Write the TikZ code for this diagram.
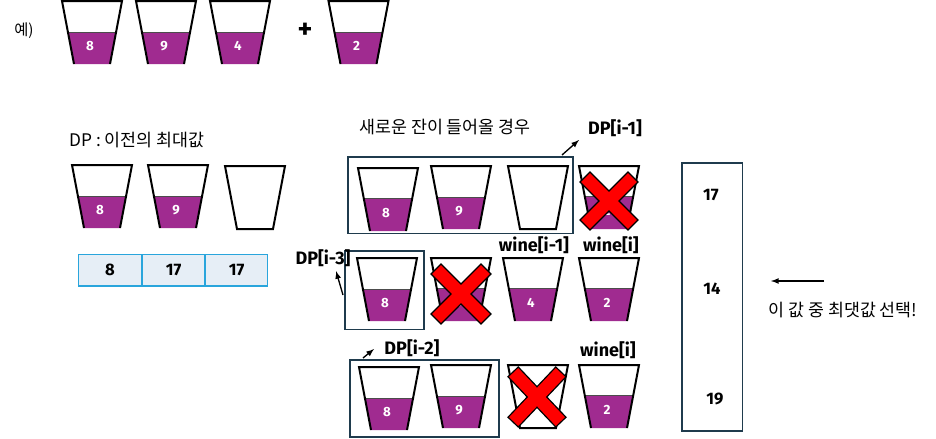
\documentclass[tikz,border=0pt]{standalone}
\usepackage{fontspec}
\setmainfont{Fira Sans}
\newfontfamily\krfont{Noto Sans CJK KR}
\definecolor{winepurple}{HTML}{A02B90}
\definecolor{framedark}{HTML}{1F3B4D}
\definecolor{cellfill}{HTML}{E6EEF6}
\definecolor{cellline}{HTML}{29A5DC}
\tikzset{
    cupline/.style={black, line width=1.5pt, line join=miter},
    framebox/.style={draw=framedark, line width=1.3pt, inner sep=0pt, anchor=north west},
    cell/.style={draw=cellline, fill=cellfill, line width=0.9pt, inner sep=0pt, anchor=north west,
        minimum height=23.5pt, font=\bfseries\fontsize{12.5}{14}\selectfont},
    cuplabel/.style={text=white, font=\bfseries\fontsize{10}{11}\selectfont},
    codelabel/.style={font=\bfseries\fontsize{13.5}{15}\selectfont},
    krlabel/.style={font=\krfont\fontsize{13}{15}\selectfont},
    numlabel/.style={font=\bfseries\fontsize{12.5}{14}\selectfont},
    arrowline/.style={-latex, black, line width=1pt},
}
% name, left, top, liquid depth, value
\newcommand{\wineglass}[5]{
    \pgfmathsetmacro{\inset}{12*#4/63}
    \fill[winepurple] ({#2+\inset},{#3+#4}) -- ({#2+60-\inset},{#3+#4}) -- ({#2+48},{#3+63}) -- ({#2+12},{#3+63}) -- cycle;
    \draw[black!70, line width=0.7pt] ({#2+\inset},{#3+#4}) -- ({#2+60-\inset},{#3+#4});
    \draw[cupline] ({#2+12},{#3+63}) -- (#2,#3) -- ({#2+60},#3) -- ({#2+48},{#3+63});
    \node[cuplabel] (#1) at ({#2+28},{#3+45}) {#5};
}
% left, top
\newcommand{\emptyglass}[2]{
    \draw[cupline] ({#1+12},{#2+63}) -- (#1,#2) -- ({#1+60},#2) -- ({#1+48},{#2+63}) -- cycle;
}
% centre, half width, half height
\newcommand{\crossmark}[4]{
    \draw[black, line width=11.5pt, line cap=rect] ({#1-#3},{#2-#4}) -- ({#1+#3},{#2+#4});
    \draw[black, line width=11.5pt, line cap=rect] ({#1-#3},{#2+#4}) -- ({#1+#3},{#2-#4});
    \draw[red, line width=9.5pt, line cap=rect] ({#1-#3},{#2-#4}) -- ({#1+#3},{#2+#4});
    \draw[red, line width=9.5pt, line cap=rect] ({#1-#3},{#2+#4}) -- ({#1+#3},{#2-#4});
}
\begin{document}
\begin{tikzpicture}[x=0.75pt, y=-0.75pt]
    \useasboundingbox (0,0) rectangle (936,439);

    % Example row
    \node[krlabel, font=\krfont\fontsize{11.5}{13}\selectfont] (example) at (24,31) {예)};
    \wineglass{topa}{62}{1}{31}{8}
    \wineglass{topb}{136}{1}{31}{9}
    \wineglass{topc}{210}{1}{31}{4}
    \wineglass{topd}{328.5}{1}{31}{2}
    \node[font=\bfseries\fontsize{21}{22}\selectfont] (plus) at (305,31) {+};

    % Previous maximum
    \node[krlabel] (dptitle) at (137,140) {DP : 이전의 최대값};
    \wineglass{preva}{72}{165}{31}{8}
    \wineglass{prevb}{148}{165}{31}{9}
    \emptyglass{225}{166}
    \node[cell, minimum width=47pt] (cella) at (78,254) {8};
    \node[cell, minimum width=46.5pt] (cellb) at (142,254) {17};
    \node[cell, minimum width=46.5pt] (cellc) at (205,254) {17};

    % Case one
    \node[krlabel] (newtitle) at (445,127) {새로운 잔이 들어올 경우};
    \node[framebox, minimum width=169pt, minimum height=57.5pt] (boxone) at (347,156) {};
    \wineglass{onea}{358}{168}{30}{8}
    \wineglass{oneb}{431}{166}{31}{9}
    \emptyglass{508}{166}
    \wineglass{onec}{579}{166}{30}{2}
    \crossmark{609}{201}{19}{19}
    \node[codelabel] (dpone) at (615,128) {DP[i-1]};
    \coordinate (onestart) at (562,155);
    \coordinate (oneend) at (579,140);
    \draw[arrowline] (onestart) -- (oneend);

    % Case two
    \node[framebox, minimum width=59.5pt, minimum height=59pt] (boxtwo) at (344,250) {};
    \wineglass{twoa}{357}{258}{31}{8}
    \wineglass{twob}{431}{258}{30}{9}
    \wineglass{twoc}{503}{258}{30}{4}
    \wineglass{twod}{579}{258}{30}{2}
    \crossmark{461}{294}{20}{20}
    \node[codelabel] (dpthree) at (323,258) {DP[i-3]};
    \node[codelabel] (winetwoa) at (534,245) {wine[i-1]};
    \node[codelabel] (winetwob) at (611,245) {wine[i]};
    \coordinate (twostart) at (343,295);
    \coordinate (twoend) at (336,271);
    \draw[arrowline] (twostart) -- (twoend);

    % Case three
    \node[framebox, minimum width=112pt, minimum height=58pt] (boxthree) at (349,359) {};
    \wineglass{threea}{359}{367}{31}{8}
    \wineglass{threeb}{431}{365}{31}{9}
    \emptyglass{508}{365}
    \wineglass{threec}{579}{365}{30}{2}
    \crossmark{537}{397}{19}{20}
    \node[codelabel] (dptwo) at (412,348) {DP[i-2]};
    \node[codelabel] (winethree) at (608,350) {wine[i]};
    \coordinate (threestart) at (363,358);
    \coordinate (threeend) at (374,349);
    \draw[arrowline] (threestart) -- (threeend);

    % Result column
    \node[framebox, minimum width=45.5pt, minimum height=201pt] (resultbox) at (681,162) {};
    \node[numlabel] (resulta) at (711,195) {17};
    \node[numlabel] (resultb) at (712,289) {14};
    \node[numlabel] (resultc) at (715,399) {19};
    \coordinate (pickstart) at (824,281);
    \coordinate (pickend) at (771,281);
    \draw[arrowline] (pickstart) -- (pickend);
    \node[krlabel] (picktext) at (843,310) {이 값 중 최댓값 선택!};
\end{tikzpicture}
\end{document}
